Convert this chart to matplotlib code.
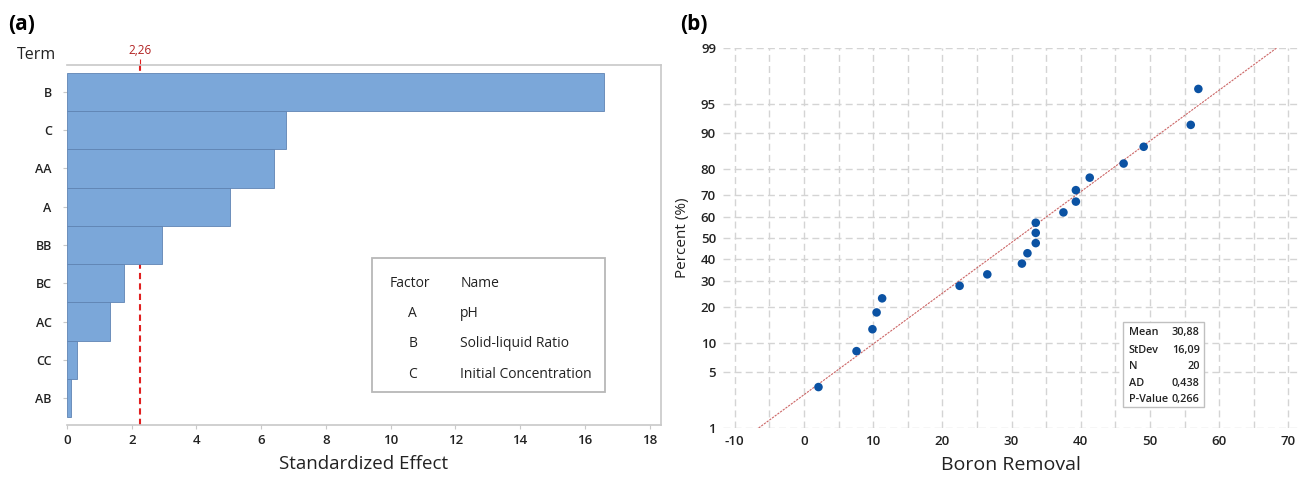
from statistics import NormalDist

import matplotlib
matplotlib.use("Agg")
import matplotlib.pyplot as plt
import numpy as np
from matplotlib.patches import Rectangle

plt.rcParams["font.family"] = ["Open Sans", "DejaVu Sans"]
plt.rcParams["axes.unicode_minus"] = False

# (a) Pareto chart of standardized effects
terms = ["B", "C", "AA", "A", "BB", "BC", "AC", "CC", "AB"]
effects = [16.6, 6.78, 6.41, 5.05, 2.95, 1.76, 1.32, 0.32, 0.11]
critical = 2.26
factors = ["A", "B", "C"]
factor_names = ["pH", "Solid-liquid Ratio", "Initial Concentration"]

# (b) normal probability plot
boron = [2.1, 7.6, 9.9, 10.5, 11.3, 22.5, 26.5, 31.5, 32.3, 33.5,
         33.5, 33.5, 37.5, 39.3, 39.3, 41.3, 46.2, 49.1, 55.9, 57.0]
percent = [3.4, 8.3, 13.2, 18.1, 23.0, 27.9, 32.8, 37.7, 42.6, 47.5,
           52.5, 57.4, 62.3, 67.2, 72.1, 77.0, 81.9, 86.8, 91.7, 96.6]
mean, stdev = 30.88, 16.09
stats_labels = ["Mean", "StDev", "N", "AD", "P-Value"]
stats_values = ["30,88", "16,09", "20", "0,438", "0,266"]
pct_ticks = [1, 5, 10, 20, 30, 40, 50, 60, 70, 80, 90, 95, 99]
x_ticks = [-10, 0, 10, 20, 30, 40, 50, 60, 70]

nd = NormalDist()
_inv = np.vectorize(nd.inv_cdf, otypes=[float])
_cdf = np.vectorize(nd.cdf, otypes=[float])


def to_z(p):
    p = np.clip(np.asarray(p, dtype=float) / 100.0, 1e-9, 1 - 1e-9)
    return _inv(p)


def from_z(z):
    return _cdf(np.asarray(z, dtype=float)) * 100.0


fig = plt.figure(figsize=(12.98, 4.78), dpi=100)
spine_col = "#c8c8c8"
text_col = "#222222"

# ---------- (a) ----------
ax = fig.add_axes([0.0516, 0.111, 0.4576, 0.753])
ypos = np.arange(len(terms))
ax.barh(ypos, effects, height=1.0, color="#7ba7d9", edgecolor="#5f84b3",
        linewidth=0.6, zorder=3)
ax.set_ylim(len(terms) - 0.3, -0.7)
ax.set_xlim(0, 18.35)
ax.set_yticks(ypos)
ax.set_yticklabels(terms, fontsize=9, color=text_col, fontweight="semibold")
ax.set_xticks(np.arange(0, 19, 2))
ax.tick_params(axis="x", labelsize=9.5, colors=spine_col, labelcolor=text_col, length=3)
ax.tick_params(axis="y", colors=spine_col, labelcolor=text_col, length=3, pad=8)
for lab in ax.get_xticklabels():
    lab.set_fontweight("semibold")
for side in ["top", "right", "bottom"]:
    ax.spines[side].set_color(spine_col)
    ax.spines[side].set_linewidth(1.2)
ax.spines["left"].set_visible(False)

ax.axvline(critical, color="#e02020", linestyle=(0, (3, 2)), linewidth=1.5, zorder=1)
top = ax.secondary_xaxis("top")
top.set_xticks([critical])
top.set_xticklabels(["2,26"])
top.tick_params(colors="#e02020", labelcolor="#b22222", labelsize=8.5, length=4, pad=2)
top.spines["top"].set_visible(False)

ax.set_xlabel("Standardized Effect", fontsize=13.5, color=text_col, labelpad=6)
fig.text(0.0285, 0.885, "Term", fontsize=11.5, color=text_col, ha="center", va="center")
fig.text(0.006, 0.948, "(a)", fontsize=15, fontweight="bold", ha="left", va="center")

ax.add_patch(Rectangle((0.513, 0.092), 0.393, 0.372, transform=ax.transAxes,
                       fill=False, edgecolor="#b8b8b8", linewidth=1.3))
row_y = [0.394, 0.311, 0.225, 0.139]
ax.text(0.544, row_y[0], "Factor", transform=ax.transAxes, fontsize=10,
        color=text_col, va="center")
ax.text(0.662, row_y[0], "Name", transform=ax.transAxes, fontsize=10,
        color=text_col, va="center")
for f, n, yy in zip(factors, factor_names, row_y[1:]):
    ax.text(0.582, yy, f, transform=ax.transAxes, fontsize=10, color=text_col,
            va="center", ha="center")
    ax.text(0.662, yy, n, transform=ax.transAxes, fontsize=10, color=text_col,
            va="center")

# ---------- (b) ----------
bx = fig.add_axes([0.557, 0.1046, 0.443, 0.795])
bx.set_yscale("function", functions=(to_z, from_z))
bx.set_ylim(1, 99)
bx.set_xlim(-11.7, 71.4)
bx.set_yticks(pct_ticks)
bx.set_yticklabels([str(t) for t in pct_ticks])
bx.yaxis.set_minor_locator(matplotlib.ticker.NullLocator())
bx.set_xticks(x_ticks)
bx.set_xticks(np.arange(-10, 71, 5), minor=True)
bx.grid(True, which="both", axis="x", color="#d4d4d4", linestyle=(0, (5, 3)), linewidth=1.0)
bx.grid(True, which="major", axis="y", color="#d4d4d4", linestyle=(0, (5, 3)), linewidth=1.0)
bx.tick_params(which="both", length=0, labelsize=9.5, labelcolor=text_col, pad=5)
for lab in bx.get_xticklabels() + bx.get_yticklabels():
    lab.set_fontweight("semibold")
for side in bx.spines.values():
    side.set_visible(False)

fit_pct = [1, 99]
fit_x = mean + stdev * to_z(fit_pct)
bx.plot(fit_x, fit_pct, color="#cc6666", linestyle=(0, (2, 1)), linewidth=0.8)
bx.scatter(boron, percent, s=38, color="#0b52a3", zorder=3, edgecolors="none")

bx.set_xlabel("Boron Removal", fontsize=14, color=text_col, labelpad=6)
bx.set_ylabel("Percent (%)", fontsize=11, color=text_col, labelpad=8)
fig.text(0.524, 0.948, "(b)", fontsize=15, fontweight="bold", ha="left", va="center")

bx.add_patch(Rectangle((0.695, 0.055), 0.141, 0.224, transform=bx.transAxes,
                       facecolor="white", edgecolor="#c0c0c0", linewidth=1.0, zorder=4))
stat_y = [0.25, 0.205, 0.162, 0.118, 0.076]
for lab, val, yy in zip(stats_labels, stats_values, stat_y):
    bx.text(0.706, yy, lab, transform=bx.transAxes, fontsize=7.8, color=text_col,
            fontweight="semibold", va="center", zorder=5)
    bx.text(0.829, yy, val, transform=bx.transAxes, fontsize=7.8, color=text_col,
            fontweight="semibold", va="center", ha="right", zorder=5)

fig.savefig("out.png", dpi=100)
